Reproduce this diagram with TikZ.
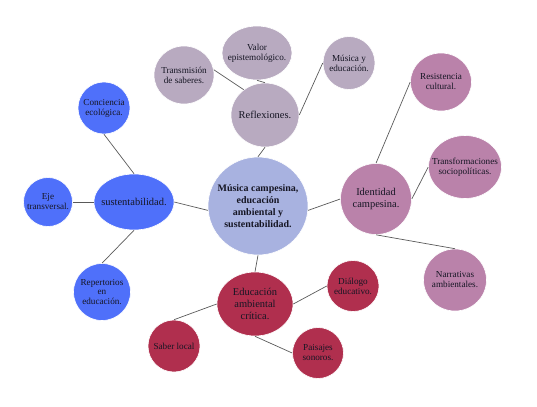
\documentclass[tikz,border=0pt]{standalone}
\usepackage{fontspec}
\setmainfont{Liberation Serif}
\usetikzlibrary{shapes.geometric, positioning}

\definecolor{hubcolor}{RGB}{168,178,224}
\definecolor{reflcolor}{RGB}{184,170,192}
\definecolor{sustcolor}{RGB}{79,112,250}
\definecolor{identcolor}{RGB}{186,130,170}
\definecolor{educolor}{RGB}{176,47,78}
\definecolor{inkcolor}{RGB}{22,22,36}

\begin{document}
\begin{tikzpicture}[
    x=1bp, y=-1bp,
    bubble/.style={ellipse, draw=white, line width=0.6pt, inner sep=-30pt, align=center, text=inkcolor, font=\fontsize{9.2}{10}\selectfont},
    hub/.style={bubble, font=\fontsize{10.5}{12}\selectfont},
    link/.style={draw=black!65, line width=0.7pt}
    ]
    \useasboundingbox (0,0) rectangle (537,406);

    % centre
    \node[hub, fill=hubcolor, minimum width=100bp, minimum height=98bp, font=\bfseries\fontsize{10}{12.3}\selectfont] (musica) at (258,206) {Música campesina,\\educación\\ambiental y\\sustentabilidad.};

    % reflexiones
    \node[hub, fill=reflcolor, minimum width=68bp, minimum height=64bp] (reflex) at (265,115) {Reflexiones.};
    \node[bubble, fill=reflcolor, minimum width=70bp, minimum height=54bp] (valor) at (257,53) {Valor\\epistemológico.};
    \node[bubble, fill=reflcolor, minimum width=60bp, minimum height=58bp] (transm) at (184,75) {Transmisión\\de saberes.};
    \node[bubble, fill=reflcolor, minimum width=52bp, minimum height=53bp] (musedu) at (349,63) {Música y\\educación.};

    % sustentabilidad
    \node[hub, fill=sustcolor, minimum width=80bp, minimum height=56bp] (sust) at (134,202) {sustentabilidad.};
    \node[bubble, fill=sustcolor, minimum width=52bp, minimum height=52bp] (concien) at (104,108) {Conciencia\\ecológica.};
    \node[bubble, fill=sustcolor, minimum width=49bp, minimum height=49bp] (eje) at (48,202) {Eje\\transversal.};
    \node[bubble, fill=sustcolor, minimum width=57bp, minimum height=57bp] (repert) at (102,292) {Repertorios\\en\\educación.};

    % identidad
    \node[hub, fill=identcolor, minimum width=71bp, minimum height=71bp] (ident) at (376,199) {Identidad\\campesina.};
    \node[bubble, fill=identcolor, minimum width=61bp, minimum height=58bp] (resist) at (441,82) {Resistencia\\cultural.};
    \node[bubble, fill=identcolor, minimum width=73bp, minimum height=63bp] (transf) at (465,167) {Transformaciones\\sociopolíticas.};
    \node[bubble, fill=identcolor, minimum width=63bp, minimum height=62bp] (narr) at (455,280) {Narrativas\\ambientales.};

    % educacion
    \node[hub, fill=educolor, minimum width=76bp, minimum height=64bp] (educ) at (255,304) {Educación\\ambiental\\crítica.};
    \node[bubble, fill=educolor, minimum width=52bp, minimum height=52bp] (saber) at (174,346) {Saber local};
    \node[bubble, fill=educolor, minimum width=52bp, minimum height=51bp] (dialogo) at (353,286) {Diálogo\\educativo.};
    \node[bubble, fill=educolor, minimum width=51bp, minimum height=51bp] (paisajes) at (318,353) {Paisajes\\sonoros.};

    \draw[link] (transm.10) -- (reflex.130);
    \draw[link] (valor.south) -- (reflex.north);
    \draw[link] (musedu.west) -- (reflex.east);
    \draw[link] (reflex.south) -- (musica.north);

    \draw[link] (concien.south) -- (sust.north);
    \draw[link] (eje.east) -- (sust.west);
    \draw[link] (repert.north) -- (sust.south);
    \draw[link] (sust.east) -- (musica.185);

    \draw[link] (resist.west) -- (ident.north);
    \draw[link] (transf.west) -- (ident.east);
    \draw[link] (narr.north) -- (ident.south);
    \draw[link] (ident.west) -- (musica.-5);

    \draw[link] (educ.north) -- (musica.south);
    \draw[link] (saber.north) -- (educ.west);
    \draw[link] (dialogo.west) -- (educ.east);
    \draw[link] (paisajes.west) -- (educ.south);

\end{tikzpicture}
\end{document}
